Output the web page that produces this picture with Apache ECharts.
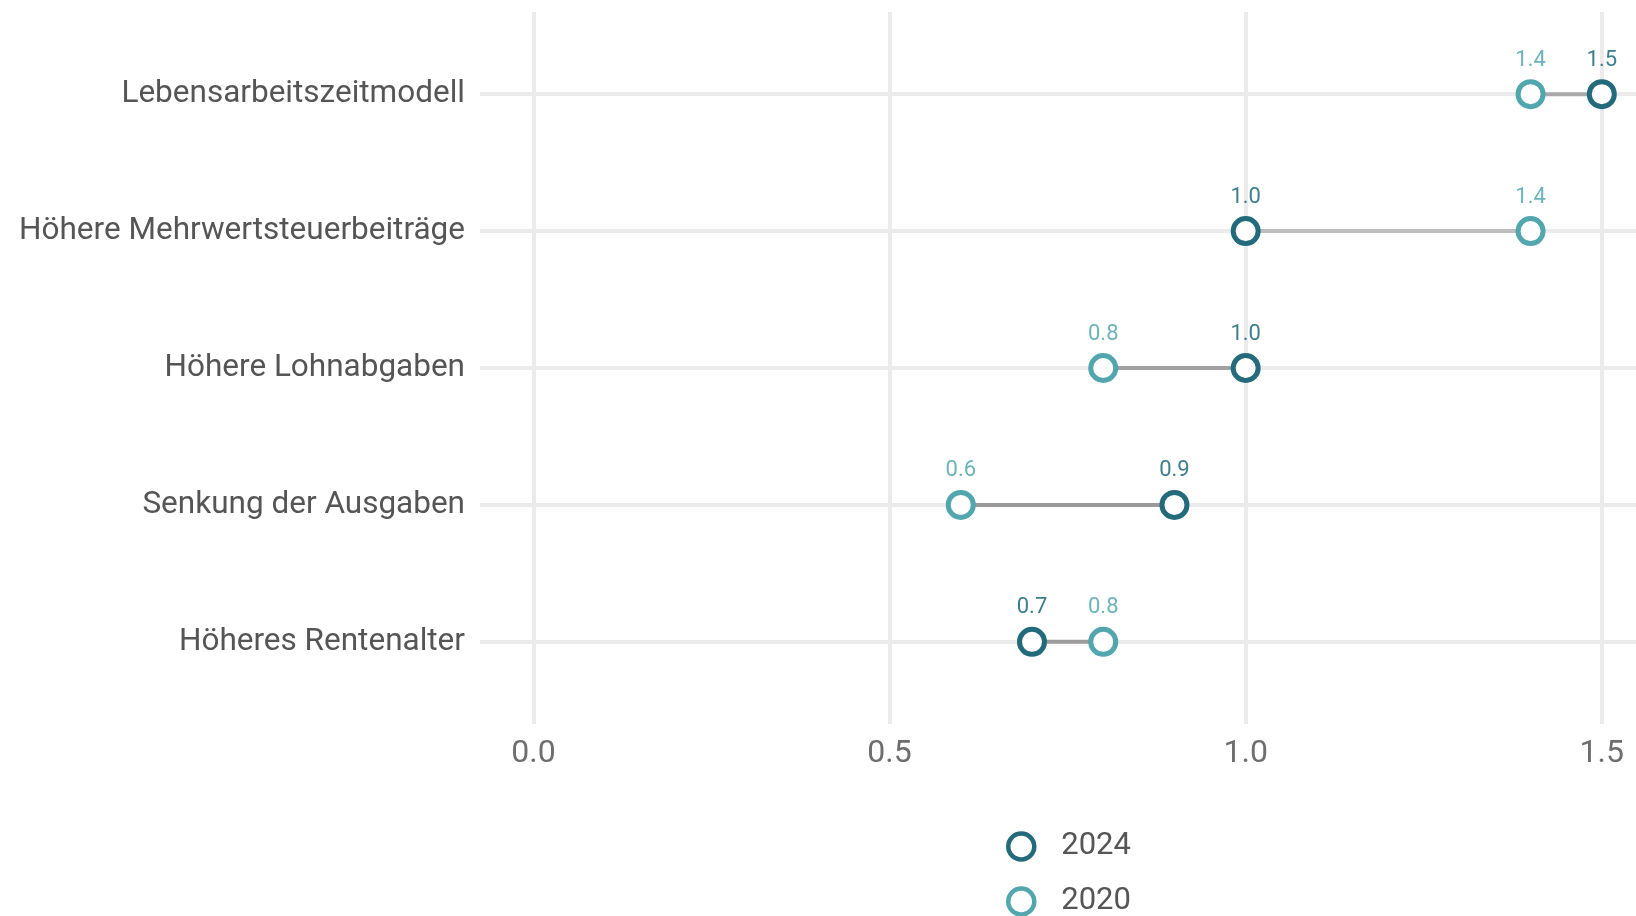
<!DOCTYPE html>
<html>
<head>
<meta charset="utf-8">
<script src="https://cdn.jsdelivr.net/npm/echarts@6/dist/echarts.min.js"></script>
<style>
  html, body { margin: 0; padding: 0; background: #fff; }
  #chart { width: 1636px; height: 916px; }
</style>
</head>
<body>
<div id="chart"></div>
<script>
const categories = ['Lebensarbeitszeitmodell', 'Höhere Mehrwertsteuerbeiträge', 'Höhere Lohnabgaben', 'Senkung der Ausgaben', 'Höheres Rentenalter']
const values2024 = [1.5, 1.0, 1.0, 0.9, 0.7]
const values2020 = [1.4, 1.4, 0.8, 0.6, 0.8]
const xTicks = [0, 0.5, 1.0, 1.5]
const years = ['2024', '2020']

// segment greys, one per row
const segColors = ['#aaaaaa', '#bdbdbd', '#a0a0a0', '#999999', '#9c9c9c']

const dark = '#236b7b'
const light = '#52a7ae'
const font = 'Roboto, "Noto Sans", sans-serif'

const chart = echarts.init(document.getElementById('chart'))

const rowIdx = categories.map((_, i) => i)

const legendBase = {
  orient: 'vertical',
  left: 1001,
  itemWidth: 26,
  itemHeight: 26,
  icon: 'circle',
  itemStyle: { borderWidth: 4.5 },
  textStyle: { color: '#555555', fontSize: 31, padding: [0, 0, 0, 22], fontFamily: font }
}

const pointSeries = (name, vals, border, labelColor) => ({
  name,
  type: 'scatter',
  z: 5,
  symbol: 'circle',
  symbolSize: 25,
  data: rowIdx.map(i => [vals[i], i]),
  itemStyle: { color: '#ffffff', borderColor: border, borderWidth: 5, opacity: 1 },
  label: {
    show: true,
    position: 'top',
    distance: 8,
    formatter: p => p.value[0].toFixed(1),
    color: labelColor,
    fontSize: 22
  }
})

const option = {
  animation: false,
  textStyle: { fontFamily: font },
  grid: { left: 480, right: 0, top: 12, bottom: 192 },
  xAxis: {
    type: 'value',
    min: -0.075,
    max: 1.548,
    axisLine: { show: false },
    axisTick: { show: false },
    splitLine: { show: false },
    axisLabel: {
      customValues: xTicks,
      formatter: v => v.toFixed(1),
      color: '#6e6e6e',
      fontSize: 32,
      margin: 14
    }
  },
  yAxis: {
    type: 'value',
    inverse: true,
    min: -0.6,
    max: 4.6,
    axisLine: { show: false },
    axisTick: { show: false },
    splitLine: { show: false },
    axisLabel: {
      customValues: rowIdx,
      formatter: v => categories[Math.round(v)] || '',
      color: '#555555',
      fontSize: 31.5,
      margin: 15
    }
  },
  legend: [
    Object.assign({}, legendBase, { top: 826, data: [years[0]] }),
    Object.assign({}, legendBase, { top: 881, data: [years[1]] })
  ],
  series: [
    {
      name: 'grid',
      type: 'scatter',
      data: [],
      silent: true,
      z: 1,
      markLine: {
        silent: true,
        z: 1,
        symbol: 'none',
        label: { show: false },
        lineStyle: { color: '#ebebeb', width: 4, type: 'solid' },
        data: [
          ...xTicks.map(v => ({ xAxis: v })),
          ...rowIdx.map(i => ({ yAxis: i }))
        ]
      }
    },
    {
      name: 'segments',
      type: 'custom',
      z: 3,
      silent: true,
      data: rowIdx.map(i => [values2024[i], values2020[i], i]),
      renderItem: (params, api) => {
        const a = api.coord([api.value(0), api.value(2)])
        const b = api.coord([api.value(1), api.value(2)])
        return {
          type: 'line',
          shape: { x1: a[0], y1: a[1], x2: b[0], y2: b[1] },
          style: { stroke: segColors[params.dataIndex], lineWidth: 4 }
        }
      }
    },
    pointSeries(years[0], values2024, dark, '#3d7f8e'),
    pointSeries(years[1], values2020, light, '#6db4ba')
  ]
}

chart.setOption(option)
</script>
</body>
</html>
